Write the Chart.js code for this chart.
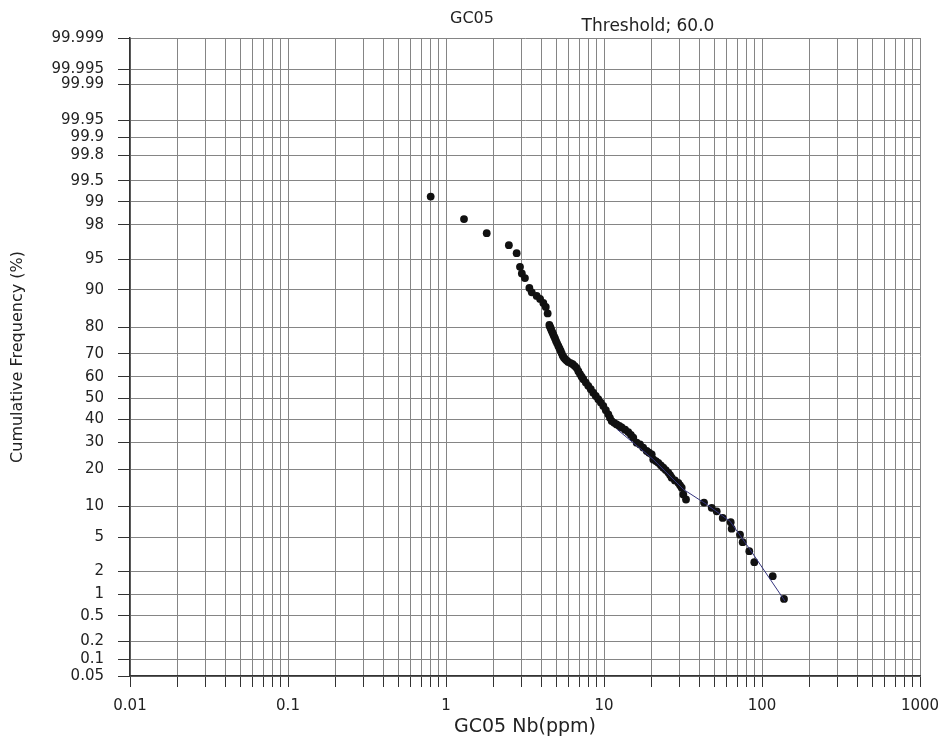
<!DOCTYPE html>
<html>
<head>
<meta charset="utf-8">
<title>GC05 probability plot</title>
<script src="https://cdn.jsdelivr.net/npm/chart.js@4.4.1/dist/chart.umd.min.js"></script>
<style>
  html, body { margin: 0; padding: 0; background: #fff; }
  #wrap { width: 944px; height: 740px; }
</style>
</head>
<body>
<div id="wrap"><canvas id="probChart"></canvas></div>
<script>
// Nb values (ppm) and cumulative frequency (%)
const nbValues = [
  0.80, 1.30, 1.81, 2.50, 2.80, 2.94, 3.02, 3.16, 3.37, 3.49,
  3.75, 3.94, 4.13, 4.28, 4.40, 4.51, 4.55, 4.60, 4.65, 4.71,
  4.77, 4.83, 4.90, 4.97, 5.05, 5.14, 5.23, 5.32, 5.40, 5.48,
  5.57, 5.67, 5.80, 5.94, 6.15, 6.34, 6.53, 6.72, 6.88, 7.05,
  7.22, 7.40, 7.67, 7.95, 8.25, 8.55, 8.87, 9.20, 9.55, 9.90,
  10.27, 10.65, 10.90, 11.19, 11.60, 12.03, 12.50, 12.94, 13.60, 14.25,
  14.80, 15.32, 16.10, 16.90, 17.70, 18.64, 19.30, 20.04, 20.51, 21.30,
  22.07, 22.90, 23.73, 24.60, 25.53, 26.20, 26.82, 28.10, 29.53, 30.30,
  31.03, 31.76, 33.04, 42.96, 48.05, 51.68, 56.40, 63.37, 64.30, 72.57,
  75.47, 83.10, 89.40, 116.9, 137.8
];
const cumFreq = [
  99.15, 98.3, 97.46, 96.5, 95.7, 94.0, 93.0, 92.25, 90.4, 89.5,
  88.7, 88.0, 87.0, 86.0, 84.2, 80.7, 80.1, 79.6, 78.9, 78.2,
  77.5, 76.8, 76.0, 75.1, 74.2, 73.2, 72.2, 71.2, 70.2, 69.2,
  68.5, 67.8, 67.2, 66.6, 66.1, 65.6, 64.8, 63.9, 62.5, 61.2,
  60.0, 58.9, 57.3, 55.8, 54.2, 52.6, 51.0, 49.5, 47.9, 46.3,
  44.3, 42.4, 40.8, 39.3, 38.5, 37.8, 37.1, 36.4, 35.4, 34.4,
  33.2, 32.0, 29.9, 29.2, 27.9, 26.6, 25.9, 25.3, 23.4, 22.8,
  22.2, 21.3, 20.5, 19.7, 18.9, 18.1, 17.3, 16.5, 15.8, 15.1,
  14.45, 12.7, 11.5, 10.8, 9.7, 9.0, 7.8, 7.1, 6.1, 5.3,
  4.4, 3.5, 2.6, 1.75, 0.87
];

// thin fitted curve through the upper tail
const fitX = [12.1, 20.5, 31.8, 44.7, 62.7, 83.9, 139.8];
const fitY = [35.6, 23.4, 14.0, 10.4, 7.26, 3.66, 0.81];

// axis ticks
const xTicks = [
  0.01, 0.02, 0.03, 0.04, 0.05, 0.06, 0.07, 0.08, 0.09,
  0.1, 0.2, 0.3, 0.4, 0.5, 0.6, 0.7, 0.8, 0.9,
  1, 2, 3, 4, 5, 6, 7, 8, 9,
  10, 20, 30, 40, 50, 60, 70, 80, 90,
  100, 200, 300, 400, 500, 600, 700, 800, 900,
  1000
];
const xLabels = [0.01, 0.1, 1, 10, 100, 1000];
const probTicks = [
  0.05, 0.1, 0.2, 0.5, 1, 2, 5, 10, 20, 30, 40, 50, 60, 70, 80, 90,
  95, 98, 99, 99.5, 99.8, 99.9, 99.95, 99.99, 99.995, 99.999
];

const FONT = '"DejaVu Sans", Verdana, sans-serif';

// inverse of the standard normal cdf (Acklam)
function probit(p) {
  const a = [-39.69683028665376, 220.9460984245205, -275.9285104469687, 138.3577518672690, -30.66479806614716, 2.506628277459239];
  const b = [-54.47609879822406, 161.5858368580409, -155.6989798598866, 66.80131188771972, -13.28068155288572];
  const c = [-0.007784894002430293, -0.3223964580411365, -2.400758277161838, -2.549732539343734, 4.374664141464968, 2.938163982698783];
  const d = [0.007784695709041462, 0.3224671290700398, 2.445134137142996, 3.754408661907416];
  const pl = 0.02425;
  let q, r;
  if (p < pl) {
    q = Math.sqrt(-2 * Math.log(p));
    return (((((c[0] * q + c[1]) * q + c[2]) * q + c[3]) * q + c[4]) * q + c[5]) /
      ((((d[0] * q + d[1]) * q + d[2]) * q + d[3]) * q + 1);
  }
  if (p > 1 - pl) {
    q = Math.sqrt(-2 * Math.log(1 - p));
    return -(((((c[0] * q + c[1]) * q + c[2]) * q + c[3]) * q + c[4]) * q + c[5]) /
      ((((d[0] * q + d[1]) * q + d[2]) * q + d[3]) * q + 1);
  }
  q = p - 0.5;
  r = q * q;
  return (((((a[0] * r + a[1]) * r + a[2]) * r + a[3]) * r + a[4]) * r + a[5]) * q /
    (((((b[0] * r + b[1]) * r + b[2]) * r + b[3]) * r + b[4]) * r + 1);
}

// standard normal cdf, used to go back from pixel to value
function normCdf(z) {
  const t = 1 / (1 + 0.2316419 * Math.abs(z));
  const poly = t * (0.319381530 + t * (-0.356563782 + t * (1.781477937 + t * (-1.821255978 + t * 1.330274429))));
  const tail = Math.exp(-z * z / 2) / Math.sqrt(2 * Math.PI) * poly;
  return z >= 0 ? 1 - tail : tail;
}

// probability (normal quantile) axis for the cumulative frequency
class ProbitScale extends Chart.Scale {
  determineDataLimits() {
    this.min = this.options.min;
    this.max = this.options.max;
  }
  buildTicks() {
    return probTicks.map(v => ({ value: v }));
  }
  getLabelForValue(v) {
    return String(v);
  }
  configure() {
    super.configure();
    this._zStart = probit(this.min / 100);
    this._zEnd = probit(this.max / 100);
  }
  getPixelForValue(v) {
    const z = probit(v / 100);
    return this.getPixelForDecimal((z - this._zStart) / (this._zEnd - this._zStart));
  }
  getValueForPixel(px) {
    const z = this._zStart + this.getDecimalForPixel(px) * (this._zEnd - this._zStart);
    return 100 * normCdf(z);
  }
  getPixelForTick(i) {
    return this.getPixelForValue(this.ticks[i].value);
  }
}
ProbitScale.id = 'probit';
ProbitScale.defaults = {};
Chart.register(ProbitScale);

// chart title and threshold note
const headings = {
  id: 'headings',
  afterDraw(chart) {
    const ctx = chart.ctx;
    ctx.save();
    ctx.fillStyle = '#222';
    ctx.textAlign = 'center';
    ctx.textBaseline = 'middle';
    ctx.font = '16px ' + FONT;
    ctx.fillText('GC05', 472, 19);
    ctx.font = '17px ' + FONT;
    ctx.fillText('Threshold; 60.0', 648, 27);
    ctx.restore();
  }
};

const points = nbValues.map((x, i) => ({ x: x, y: cumFreq[i] }));
const fitLine = fitX.map((x, i) => ({ x: x, y: fitY[i] }));

new Chart(document.getElementById('probChart'), {
  type: 'scatter',
  data: {
    datasets: [
      {
        label: 'Fit',
        data: fitLine,
        showLine: true,
        borderColor: '#34347e',
        borderWidth: 1,
        pointRadius: 0,
        order: 0
      },
      {
        label: 'GC05 Nb',
        data: points,
        backgroundColor: '#111',
        borderWidth: 0,
        pointRadius: 3.9,
        order: 1
      }
    ]
  },
  options: {
    responsive: true,
    maintainAspectRatio: false,
    animation: false,
    events: [],
    layout: { padding: { left: 0, right: 24, top: 38, bottom: 0 } },
    plugins: {
      legend: { display: false },
      tooltip: { enabled: false }
    },
    scales: {
      x: {
        type: 'logarithmic',
        min: 0.01,
        max: 1000,
        afterBuildTicks: s => { s.ticks = xTicks.map(v => ({ value: v })); },
        afterFit: s => { s.height = 64; s.paddingLeft = 0; s.paddingRight = 0; },
        grid: { color: '#858585', lineWidth: 1, tickLength: 11, tickColor: '#333' },
        border: { color: '#333', width: 1.5 },
        ticks: {
          autoSkip: false,
          maxRotation: 0,
          padding: 10,
          color: '#222',
          font: { family: FONT, size: 15 },
          callback: v => xLabels.includes(v) ? String(v) : ''
        },
        title: {
          display: true,
          text: 'GC05 Nb(ppm)',
          color: '#222',
          font: { family: FONT, size: 19 },
          padding: { top: 0, bottom: 2 }
        }
      },
      y: {
        type: 'probit',
        position: 'left',
        min: 0.05,
        max: 99.999,
        afterFit: s => { s.width = 130; s.paddingTop = 0; s.paddingBottom = 0; },
        grid: { color: '#858585', lineWidth: 1, tickLength: 12, tickColor: '#333' },
        border: { color: '#333', width: 1.5 },
        ticks: {
          autoSkip: false,
          padding: 14,
          color: '#222',
          font: { family: FONT, size: 15 },
          callback: v => String(v)
        },
        title: {
          display: true,
          text: 'Cumulative Frequency (%)',
          color: '#222',
          font: { family: FONT, size: 16 },
          padding: { top: 8, bottom: 0 }
        }
      }
    }
  },
  plugins: [headings]
});
</script>
</body>
</html>
